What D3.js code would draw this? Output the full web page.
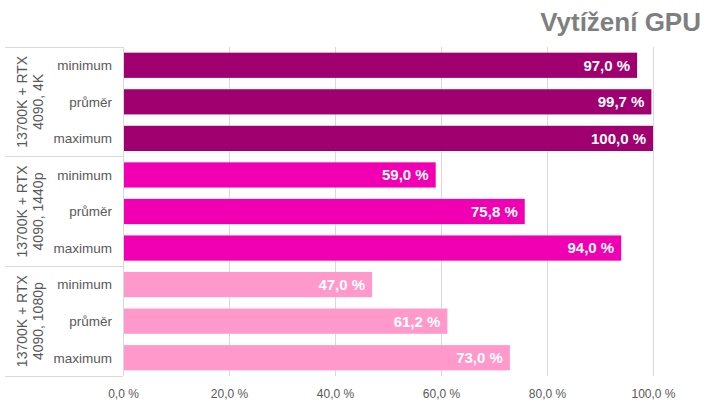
<!DOCTYPE html>
<html><head><meta charset="utf-8">
<script src="https://cdn.jsdelivr.net/npm/d3@7"></script>
<style>body{margin:0;background:#fff}svg{display:block;font-family:"Liberation Sans",Arial,sans-serif}</style>
</head><body><svg id="c" width="720" height="405"></svg>
<script>
const groups = [["13700K + RTX","4090, 4K"],["13700K + RTX","4090, 1440p"],["13700K + RTX","4090, 1080p"]];
const rowNames = ["minimum","průměr","maximum"];
const values4K = [97.0, 99.7, 100.0];
const values1440 = [59.0, 75.8, 94.0];
const values1080 = [47.0, 61.2, 73.0];
const groupColors = ["#A0006F","#F000B2","#FF99CC"];
const ticks = [0,20,40,60,80,100];
const title = "Vytížení GPU";

const series = [values4K, values1440, values1080];
const rows = [];
series.forEach((vals,g)=>vals.forEach((v,i)=>rows.push({g,i,key:g+"-"+i,name:rowNames[i],v})));

const svg = d3.select("#c");
const L=123, R=653, T=47, B=376;
const x = d3.scaleLinear().domain([0,100]).range([L,R]);
const y = d3.scaleBand().domain(rows.map(d=>d.key)).range([T,B]).paddingInner(0.31).paddingOuter(0.155);
const gy = d3.scaleBand().domain(d3.range(groups.length)).range([T,B]);

// gridlines
svg.append("g").selectAll("line").data(ticks.slice(1)).join("line")
  .attr("x1",d=>x(d)).attr("x2",d=>x(d)).attr("y1",T).attr("y2",B)
  .attr("stroke","#d9d9d9").attr("stroke-width",1).attr("shape-rendering","crispEdges");

// bars
svg.append("g").selectAll("rect").data(rows).join("rect")
  .attr("x",x(0)+1).attr("y",d=>y(d.key)).attr("height",y.bandwidth())
  .attr("width",d=>x(d.v)-x(0)-1).attr("fill",d=>groupColors[d.g]);

// value labels
const fmt = v => v.toFixed(1).replace(".",",")+" %";
svg.append("g").selectAll("text").data(rows).join("text")
  .attr("x",d=>x(d.v)-7).attr("y",d=>y(d.key)+y.bandwidth()/2).attr("dy","0.36em")
  .attr("text-anchor","end").attr("fill","#fff").attr("font-weight","bold").attr("font-size",15)
  .text(d=>fmt(d.v));

// category axis line and separators
svg.append("line").attr("x1",L).attr("x2",L).attr("y1",T).attr("y2",B)
  .attr("stroke","#d9d9d9").attr("shape-rendering","crispEdges");
svg.append("g").selectAll("line").data(d3.range(groups.length+1)).join("line")
  .attr("x1",5).attr("x2",L).attr("y1",d=>d<groups.length?gy(d):B).attr("y2",d=>d<groups.length?gy(d):B)
  .attr("stroke","#d9d9d9").attr("shape-rendering","crispEdges");

// row labels
svg.append("g").selectAll("text").data(rows).join("text")
  .attr("x",112).attr("y",d=>y(d.key)+y.bandwidth()/2).attr("dy","0.36em")
  .attr("text-anchor","end").attr("fill","#595959").attr("font-size",13.5).text(d=>d.name);

// group labels (rotated)
groups.forEach((lines,g)=>{
  const cy = gy(g)+gy.bandwidth()/2;
  const t = svg.append("text").attr("transform",`translate(30,${cy}) rotate(-90)`)
    .attr("text-anchor","middle").attr("fill","#595959").attr("font-size",14);
  t.append("tspan").attr("x",0).attr("dy","-0.2em").text(lines[0]);
  t.append("tspan").attr("x",0).attr("dy","1.15em").text(lines[1]);
});

// x axis
const xa = svg.append("g").attr("transform",`translate(0,${B})`)
  .call(d3.axisBottom(x).tickValues(ticks).tickSize(0).tickPadding(13).tickFormat(fmt));
xa.select(".domain").remove();
xa.selectAll("text").attr("fill","#595959").attr("font-size",12).attr("font-family","Liberation Sans, Arial, sans-serif");

// title
svg.append("text").attr("x",701).attr("y",31).attr("text-anchor","end")
  .attr("fill","#7f7f7f").attr("font-weight","bold").attr("font-size",26).text(title);
</script></body></html>
